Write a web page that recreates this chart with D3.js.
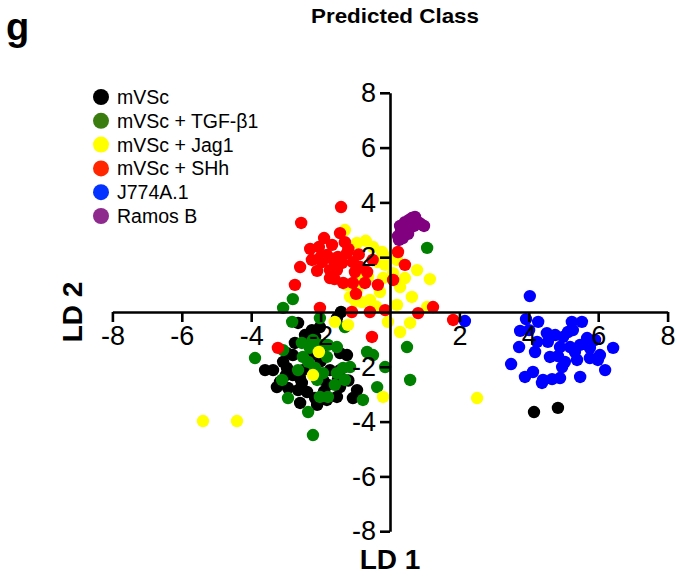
<!DOCTYPE html>
<html lang="en">
<head>
  <meta charset="utf-8">
  <script src="https://d3js.org/d3.v7.min.js"></script>
  <style>
    body { margin: 0; background: #fff; }
    text { font-family: "Liberation Sans", Arial, Helvetica, sans-serif; }
  </style>
</head>
<body>
<script>
  // LDA scatter, "Predicted Class"
  const width = 677;
  const height = 577;

  const groups = ["mVSc", "mVSc + TGF-β1", "mVSc + Jag1", "mVSc + SHh", "J774A.1", "Ramos B"];
  const legendColors = ["#000000", "#3a7d0e", "#ffff00", "#ff2600", "#0433ff", "#8e2a8e"];
  const dotColors = ["#000000", "#008000", "#ffff00", "#ff0000", "#0000ff", "#800080"];
  const tickValues = [-8, -6, -4, -2, 2, 4, 6, 8];

  // [LD1, LD2]
  const mVSc = [
    [-1.41, 0.00], [-1.53, -0.22], [-2.65, -0.40], [-2.25, -0.66], [-2.02, -0.55], [-2.45, -0.84],
    [-2.74, -1.13], [-2.16, -0.91], [-1.44, -1.50], [-1.24, -1.57], [-2.97, -1.50], [-3.60, -2.12],
    [-3.37, -2.12], [-2.97, -2.04], [-2.80, -2.30], [-3.17, -2.55], [-3.26, -2.74], [-2.94, -2.77],
    [-2.54, -2.59], [-2.65, -2.85], [-2.39, -2.92], [-2.16, -3.14], [-2.10, -3.39], [-1.82, -3.21],
    [-1.53, -3.10], [-1.44, -2.74], [-1.73, -2.12], [-1.44, -2.12], [-0.95, -2.85], [-1.07, -3.14],
    [-2.80, -1.57], [-2.51, -2.12], [-1.93, -2.48], [-1.50, -2.48], [-1.79, -2.66], [-2.59, -3.32],
    [-2.31, -1.20], [-1.87, -1.20], [-3.08, -1.82], [-2.30, -1.60], [-2.00, -1.80], [-2.60, -2.40],
    [-3.00, -2.30], [-1.20, -2.50], [-1.90, -2.90], [4.15, -3.65], [4.84, -3.50]
  ];
  const mVScTGF = [
    [-2.80, 0.47], [-3.08, 0.15], [-2.82, -0.36], [-2.02, -0.22], [-1.30, -0.55], [-3.89, -1.68],
    [-3.08, -1.39], [-2.54, -1.13], [-2.31, -1.31], [-2.51, -1.64], [-2.02, -1.20], [-1.79, -1.20],
    [-1.53, -1.28], [-1.82, -1.64], [-2.36, -1.82], [-2.65, -2.12], [-2.16, -2.04], [-1.93, -2.23],
    [-1.53, -2.23], [-1.35, -2.04], [-1.15, -2.01], [-3.11, -2.48], [-2.10, -2.48], [-1.59, -2.66],
    [-1.30, -2.48], [-0.66, -1.46], [-0.49, -1.57], [-0.14, -2.01], [-0.37, -2.74], [-2.94, -3.14],
    [-2.02, -3.10], [-1.79, -3.10], [-0.78, -3.21], [-2.36, -3.65], [-2.22, -4.49], [0.49, -1.28],
    [0.58, -2.48], [1.07, 2.34], [-2.22, -1.02]
  ];
  const mVScJag1 = [
    [-1.30, 2.99], [-0.95, 2.52], [-0.49, 2.37], [-0.23, 2.19], [-0.35, 1.82], [-0.14, 1.72],
    [0.78, 1.53], [1.15, 1.20], [0.29, 0.91], [0.63, 0.55], [0.20, 0.26], [-1.15, 0.55],
    [-0.58, 0.44], [-0.81, 0.36], [-0.29, 0.73], [-0.63, 1.28], [-1.24, 0.99], [-0.95, 0.80],
    [0.09, 1.42], [0.43, 1.24], [1.07, 0.18], [-1.59, -0.36], [-1.21, -0.47], [-0.06, -0.36],
    [0.29, -0.73], [0.58, -0.40], [-2.05, -1.46], [-2.22, -2.30], [-0.20, -3.10], [2.51, -3.14],
    [-4.41, -3.98], [-5.39, -3.98], [-0.86, 1.24], [-0.20, 1.24], [-0.70, 2.60], [-0.10, 2.00],
    [0.20, 1.90], [-1.00, 0.40], [-0.40, 0.20]
  ];
  const mVScSHh = [
    [-1.41, 3.83], [-2.56, 3.25], [-2.05, 2.37], [-1.67, 2.45], [-1.44, 2.88], [-1.30, 2.55],
    [-1.82, 2.08], [-1.64, 1.90], [-1.50, 2.01], [-1.38, 1.79], [-1.96, 1.82], [-2.25, 1.90],
    [-2.59, 1.64], [-1.73, 1.53], [-1.53, 1.53], [-1.24, 2.15], [-1.07, 1.82], [-0.86, 1.64],
    [-0.66, 1.46], [-1.01, 1.46], [-1.73, 1.24], [-1.35, 1.06], [-1.07, 1.06], [-0.72, 1.06],
    [-0.35, 0.99], [-2.74, 0.99], [-0.98, 0.66], [0.23, 2.19], [0.43, 1.72], [0.09, 1.17],
    [-2.02, 0.15], [-1.10, 0.00], [-0.58, 0.00], [-0.14, 0.07], [0.81, -0.04], [1.24, 0.18],
    [1.82, -0.29], [-0.52, -0.91], [-3.23, -1.31], [-2.30, 2.30], [-1.90, 2.70], [-1.20, 2.30],
    [-0.90, 2.10], [-2.10, 1.50], [-1.60, 1.20], [-2.00, 2.00], [-0.50, 1.90]
  ];
  const j774 = [
    [4.03, 0.58], [3.92, -0.26], [4.27, -0.36], [3.75, -0.69], [4.01, -0.66], [4.52, -0.77],
    [4.76, -0.84], [4.99, -0.91], [5.24, -0.36], [5.53, -0.36], [5.27, -0.66], [5.13, -0.73],
    [5.68, -0.95], [5.91, -1.02], [3.72, -1.28], [4.18, -1.46], [4.24, -1.09], [4.90, -1.28],
    [5.19, -1.28], [5.48, -1.20], [5.76, -1.31], [6.43, -1.31], [4.61, -1.64], [5.04, -1.82],
    [5.39, -1.75], [5.76, -1.68], [5.99, -1.75], [3.49, -1.90], [4.84, -1.61], [6.20, -2.12],
    [5.48, -2.37], [3.89, -2.37], [4.12, -2.19], [4.41, -2.48], [4.67, -2.45], [4.90, -2.41],
    [4.38, -2.59], [4.96, -2.01], [5.33, -1.46], [4.55, -1.09], [6.05, -1.57], [2.16, -0.33]
  ];
  const ramosB = [
    [0.23, 2.77], [0.32, 2.96], [0.40, 3.07], [0.29, 3.14], [0.43, 3.28], [0.55, 3.36],
    [0.63, 3.43], [0.72, 3.47], [0.58, 3.21], [0.49, 2.99], [0.37, 2.70], [0.81, 3.28],
    [0.89, 3.21], [0.98, 3.14], [0.69, 3.14], [0.52, 2.85], [0.26, 2.63]
  ];
  const series = [mVSc, mVScTGF, mVScJag1, mVScSHh, j774, ramosB];

  const svg = d3.select("body").append("svg")
    .attr("width", width)
    .attr("height", height);

  const x = d3.scaleLinear().domain([-8, 8]).range([112.4, 667.6]);
  const y = d3.scaleLinear().domain([-8, 8]).range([531.2, 92.8]);

  // points, drawn group by group
  series.forEach((pts, i) => {
    svg.append("g")
      .selectAll("circle")
      .data(pts)
      .enter()
      .append("circle")
      .attr("cx", d => x(d[0]))
      .attr("cy", d => y(d[1]))
      .attr("r", 6.2)
      .attr("fill", dotColors[i]);
  });

  // axes crossing at the origin, plain hyphen for negatives
  const fmt = d => String(d);
  const xAxis = svg.append("g")
    .attr("transform", "translate(0," + y(0) + ")")
    .call(d3.axisBottom(x).tickValues(tickValues).tickFormat(fmt).tickSize(10).tickSizeOuter(0).tickPadding(4));
  const yAxis = svg.append("g")
    .attr("transform", "translate(" + x(0) + ",0)")
    .call(d3.axisLeft(y).tickValues(tickValues).tickFormat(fmt).tickSize(10).tickSizeOuter(0).tickPadding(4));

  [xAxis, yAxis].forEach(a => {
    a.select(".domain").attr("stroke", "#000").attr("stroke-width", 2.6);
    a.selectAll(".tick line").attr("stroke", "#000").attr("stroke-width", 2.6);
    a.selectAll(".tick text")
      .attr("fill", "#000")
      .style("font-size", "27px")
      .style("font-family", "'Liberation Sans', Arial, sans-serif");
  });

  // axis titles
  svg.append("text")
    .attr("x", x(0))
    .attr("y", 569)
    .attr("text-anchor", "middle")
    .style("font-size", "28px")
    .style("font-weight", "bold")
    .text("LD 1");

  svg.append("text")
    .attr("transform", "translate(82," + y(0) + ") rotate(-90)")
    .attr("text-anchor", "middle")
    .style("font-size", "28px")
    .style("font-weight", "bold")
    .text("LD 2");

  // title and panel letter
  svg.append("text")
    .attr("x", 311)
    .attr("y", 23)
    .attr("textLength", 168)
    .attr("lengthAdjust", "spacingAndGlyphs")
    .style("font-size", "21px")
    .style("font-weight", "bold")
    .text("Predicted Class");

  svg.append("text")
    .attr("x", 6)
    .attr("y", 40)
    .style("font-size", "38px")
    .style("font-weight", "bold")
    .text("g");

  // legend
  const legend = svg.append("g").selectAll("g")
    .data(groups)
    .enter()
    .append("g")
    .attr("transform", (d, i) => "translate(101," + (97 + i * 23.8) + ")");
  legend.append("circle")
    .attr("r", 8)
    .attr("fill", (d, i) => legendColors[i]);
  legend.append("text")
    .attr("x", 16)
    .attr("y", 7)
    .style("font-size", "19.5px")
    .text(d => d);
</script>
</body>
</html>
